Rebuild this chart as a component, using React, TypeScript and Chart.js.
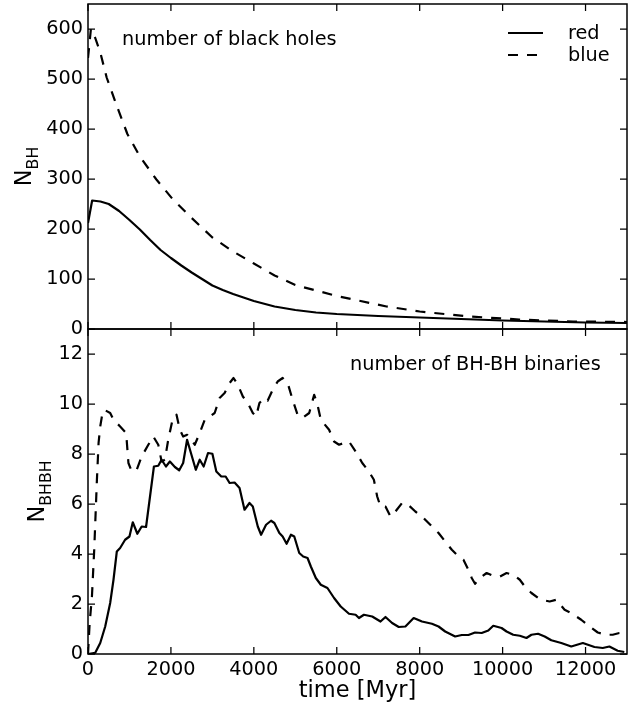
import React, { useEffect, useRef } from 'react';
import { Chart, registerables } from 'chart.js';

Chart.register(...registerables);

const FONT = '"DejaVu Sans", "Bitstream Vera Sans", sans-serif';

// ---- ticks ----
const xTicks = [0, 2000, 4000, 6000, 8000, 10000, 12000];
const topYTicks = [0, 100, 200, 300, 400, 500, 600];
const bottomYTicks = [0, 2, 4, 6, 8, 10, 12];

// ---- top panel: number of black holes ----
const redBhTime = [0, 100, 300, 500, 750, 1000, 1250, 1500, 1750, 2000, 2250, 2500, 2750, 3000, 3250, 3500, 3750, 4000, 4500, 5000, 5500, 6000, 6500, 7000, 8000, 9000, 10000, 11000, 12000, 13000];
const redBhCount = [212, 257, 255, 250, 236, 218, 199, 178, 158, 142, 127, 113, 100, 87, 78, 70, 63, 56, 45, 38, 33, 30, 28, 26, 23, 20, 17, 15, 13, 12];

const blueBhTime = [0, 70, 175, 300, 450, 700, 950, 1250, 1650, 2050, 2500, 3000, 3500, 4000, 4500, 5000, 5500, 6000, 6400, 7200, 8000, 9200, 10400, 11700, 13000];
const blueBhCount = [542, 600, 582, 552, 503, 445, 390, 345, 299, 259, 222, 183, 155, 131, 107, 88, 77, 66, 59, 45, 35, 25, 19, 15, 14];

// ---- bottom panel: number of BH-BH binaries ----
const redBinTime = [0, 175, 295, 415, 535, 615, 695, 775, 895, 1000, 1080, 1190, 1295, 1400, 1590, 1695, 1775, 1880, 1975, 2095, 2200, 2295, 2390, 2495, 2600, 2695, 2790, 2895, 3000, 3095, 3215, 3320, 3415, 3535, 3655, 3775, 3895, 3975, 4095, 4175, 4295, 4415, 4495, 4615, 4695, 4790, 4895, 4975, 5095, 5190, 5295, 5375, 5495, 5615, 5775, 5935, 6095, 6295, 6455, 6535, 6655, 6855, 7055, 7175, 7335, 7495, 7655, 7855, 8055, 8295, 8455, 8615, 8855, 9015, 9175, 9335, 9495, 9655, 9775, 9975, 10095, 10255, 10415, 10575, 10695, 10855, 11015, 11175, 11415, 11655, 11935, 12215, 12415, 12575, 12775, 12935];
const redBinCount = [0, 0.05, 0.44, 1.1, 2.04, 2.97, 4.1, 4.24, 4.57, 4.7, 5.27, 4.81, 5.1, 5.08, 7.5, 7.53, 7.77, 7.5, 7.7, 7.48, 7.35, 7.64, 8.57, 7.97, 7.37, 7.77, 7.5, 8.04, 8.01, 7.3, 7.1, 7.1, 6.84, 6.86, 6.64, 5.77, 6.04, 5.9, 5.1, 4.77, 5.17, 5.33, 5.24, 4.84, 4.7, 4.41, 4.77, 4.7, 4.04, 3.9, 3.84, 3.5, 3.04, 2.77, 2.64, 2.24, 1.9, 1.61, 1.57, 1.44, 1.57, 1.5, 1.3, 1.48, 1.24, 1.08, 1.1, 1.44, 1.3, 1.21, 1.1, 0.9, 0.7, 0.76, 0.76, 0.86, 0.84, 0.94, 1.13, 1.04, 0.9, 0.77, 0.73, 0.64, 0.77, 0.81, 0.7, 0.55, 0.44, 0.3, 0.44, 0.28, 0.24, 0.3, 0.13, 0.08];

const blueBinTime = [0, 40, 95, 150, 215, 255, 295, 335, 390, 535, 615, 775, 920, 975, 1055, 1175, 1295, 1455, 1575, 1695, 1775, 1855, 1935, 2055, 2135, 2215, 2295, 2390, 2495, 2575, 2695, 2815, 2935, 3055, 3175, 3295, 3415, 3510, 3615, 3735, 3855, 3975, 4055, 4135, 4255, 4335, 4455, 4575, 4695, 4815, 4935, 5055, 5175, 5335, 5455, 5535, 5615, 5815, 5935, 6055, 6175, 6295, 6455, 6615, 6775, 6895, 6975, 7055, 7175, 7295, 7415, 7575, 7695, 7895, 8055, 8255, 8455, 8615, 8775, 8935, 9055, 9175, 9255, 9335, 9455, 9615, 9775, 9935, 10095, 10255, 10415, 10535, 10695, 10855, 10935, 11135, 11295, 11495, 11655, 11895, 12095, 12295, 12495, 12655, 12815, 12935];
const blueBinCount = [0, 1.24, 2.3, 4.17, 6.97, 8.44, 9.1, 9.5, 9.77, 9.64, 9.37, 9.1, 8.84, 7.64, 7.3, 7.37, 7.9, 8.37, 8.7, 8.37, 7.7, 7.77, 8.57, 9.5, 9.57, 8.97, 8.7, 8.77, 8.57, 8.37, 8.84, 9.37, 9.5, 9.64, 10.24, 10.44, 10.84, 11.04, 10.77, 10.3, 10.04, 9.64, 9.5, 10.04, 10.24, 10.14, 10.57, 10.9, 11.04, 10.84, 10.17, 9.57, 9.44, 9.64, 10.37, 9.97, 9.37, 8.97, 8.5, 8.37, 8.44, 8.5, 8.1, 7.64, 7.3, 6.97, 6.3, 5.9, 5.9, 5.5, 5.7, 6.04, 6.01, 5.7, 5.5, 5.17, 4.84, 4.5, 4.17, 3.9, 3.77, 3.37, 3.04, 2.81, 3.04, 3.24, 3.13, 3.1, 3.24, 3.17, 2.97, 2.7, 2.44, 2.24, 2.17, 2.1, 2.17, 1.77, 1.64, 1.37, 1.1, 0.86, 0.77, 0.77, 0.84, 0.84];

const seriesLabels = ['red', 'blue'];

const pts = (t: number[], v: number[]) => t.map((x, i) => ({ x, y: v[i] }));

const DASH = [10, 9];

const framePlugin = {
  id: 'frame',
  afterDraw(chart: any, _args: any, opts: any) {
    const { ctx, chartArea: a, scales } = chart;
    ctx.save();
    ctx.strokeStyle = '#000';
    ctx.lineWidth = 1.5;
    ctx.strokeRect(a.left, a.top, a.right - a.left, a.bottom - a.top);
    const L = 7;
    ctx.lineWidth = 1.25;
    ctx.beginPath();
    for (const v of xTicks) {
      const px = scales.x.getPixelForValue(v);
      ctx.moveTo(px, a.top);
      ctx.lineTo(px, a.top + L);
      ctx.moveTo(px, a.bottom);
      ctx.lineTo(px, a.bottom - L);
    }
    for (const v of opts.yTicks || []) {
      const py = scales.y.getPixelForValue(v);
      ctx.moveTo(a.left, py);
      ctx.lineTo(a.left + L, py);
      ctx.moveTo(a.right, py);
      ctx.lineTo(a.right - L, py);
    }
    ctx.stroke();
    ctx.restore();
  },
};

const yLabelPlugin = {
  id: 'ylabel',
  afterDraw(chart: any, _args: any, opts: any) {
    if (!opts || !opts.main) return;
    const { ctx, chartArea: a } = chart;
    const mainFont = `22.5px ${FONT}`;
    const subFont = `15.75px ${FONT}`;
    ctx.save();
    ctx.font = mainFont;
    const wMain = ctx.measureText(opts.main).width;
    ctx.font = subFont;
    const wSub = ctx.measureText(opts.sub).width;
    const total = wMain + wSub;
    const cy = (a.top + a.bottom) / 2;
    ctx.translate(opts.x, cy);
    ctx.rotate(-Math.PI / 2);
    ctx.fillStyle = '#000';
    ctx.textBaseline = 'alphabetic';
    ctx.textAlign = 'left';
    ctx.font = mainFont;
    ctx.fillText(opts.main, -total / 2, 0);
    ctx.font = subFont;
    ctx.fillText(opts.sub, -total / 2 + wMain, 6.5);
    ctx.restore();
  },
};

const notePlugin = {
  id: 'note',
  afterDraw(chart: any, _args: any, opts: any) {
    if (!opts || !opts.text) return;
    const { ctx, chartArea: a } = chart;
    ctx.save();
    ctx.font = `19.3px ${FONT}`;
    ctx.fillStyle = '#000';
    ctx.textBaseline = 'middle';
    ctx.textAlign = 'left';
    const x = a.left + opts.fx * (a.right - a.left);
    const y = a.bottom - opts.fy * (a.bottom - a.top);
    ctx.fillText(opts.text, x, y);
    ctx.restore();
  },
};

const legendPlugin = {
  id: 'boxLegend',
  afterDraw(chart: any, _args: any, opts: any) {
    if (!opts || !opts.show) return;
    const { ctx, chartArea: a } = chart;
    ctx.save();
    chart.data.datasets.forEach((ds: any, i: number) => {
      const y = a.top + 29 + i * 22;
      ctx.strokeStyle = ds.borderColor;
      ctx.lineWidth = ds.borderWidth;
      ctx.setLineDash(ds.borderDash || []);
      ctx.beginPath();
      ctx.moveTo(a.right - 119, y);
      ctx.lineTo(a.right - 84, y);
      ctx.stroke();
      ctx.setLineDash([]);
      ctx.font = `19.3px ${FONT}`;
      ctx.fillStyle = '#000';
      ctx.textBaseline = 'middle';
      ctx.textAlign = 'left';
      ctx.fillText(ds.label, a.right - 59, y + 1);
    });
    ctx.restore();
  },
};

function lineDataset(label: string, data: any[], dashed: boolean) {
  return {
    label,
    data,
    borderColor: '#000',
    borderWidth: 2.2,
    borderDash: dashed ? DASH : [],
    borderJoinStyle: 'round',
    pointRadius: 0,
    tension: 0,
    fill: false,
  };
}

function yScale(max: number, ticks: number[]) {
  return {
    type: 'linear',
    min: 0,
    max,
    grid: { display: false, drawTicks: false },
    border: { display: false },
    ticks: {
      color: '#000',
      font: { family: FONT, size: 19.3 },
      padding: 5,
      callback: (v: any) => String(v),
    },
    afterBuildTicks: (s: any) => {
      s.ticks = ticks.map((value) => ({ value }));
    },
    afterFit: (s: any) => {
      s.width = 88;
      s.paddingTop = 0;
      s.paddingBottom = 0;
    },
  };
}

export default function App() {
  const topRef = useRef<HTMLCanvasElement | null>(null);
  const botRef = useRef<HTMLCanvasElement | null>(null);

  useEffect(() => {
    const top = new Chart(topRef.current as HTMLCanvasElement, {
      type: 'line',
      data: {
        datasets: [
          lineDataset(seriesLabels[0], pts(redBhTime, redBhCount), false),
          lineDataset(seriesLabels[1], pts(blueBhTime, blueBhCount), true),
        ] as any,
      },
      options: {
        responsive: false,
        animation: false,
        devicePixelRatio: 1,
        layout: { padding: { top: 4, right: 6, bottom: 11, left: 0 } },
        scales: {
          x: { type: 'linear', min: 0, max: 13000, display: false },
          y: yScale(650, topYTicks) as any,
        },
        plugins: {
          legend: { display: false },
          tooltip: { enabled: false },
          frame: { yTicks: topYTicks },
          ylabel: { main: 'N', sub: 'BH', x: 31 },
          note: { text: 'number of black holes', fx: 0.063, fy: 0.89 },
          boxLegend: { show: true },
        } as any,
      },
      plugins: [framePlugin, yLabelPlugin, notePlugin, legendPlugin],
    });

    const bot = new Chart(botRef.current as HTMLCanvasElement, {
      type: 'line',
      data: {
        datasets: [
          lineDataset(seriesLabels[0], pts(redBinTime, redBinCount), false),
          lineDataset(seriesLabels[1], pts(blueBinTime, blueBinCount), true),
        ] as any,
      },
      options: {
        responsive: false,
        animation: false,
        devicePixelRatio: 1,
        layout: { padding: { top: 9, right: 6, bottom: 0, left: 0 } },
        scales: {
          x: {
            type: 'linear',
            min: 0,
            max: 13000,
            grid: { display: false, drawTicks: false },
            border: { display: false },
            ticks: {
              color: '#000',
              font: { family: FONT, size: 19.3 },
              padding: 4,
              autoSkip: false,
              maxRotation: 0,
              minRotation: 0,
              callback: (v: any) => String(v),
            },
            title: {
              display: true,
              text: 'time [Myr]',
              color: '#000',
              font: { family: FONT, size: 22.5 },
              padding: { top: 0, bottom: 1 },
            },
            afterBuildTicks: (s: any) => {
              s.ticks = xTicks.map((value) => ({ value }));
            },
            afterFit: (s: any) => {
              s.height = 52;
              s.paddingLeft = 0;
              s.paddingRight = 0;
            },
          } as any,
          y: yScale(13, bottomYTicks) as any,
        },
        plugins: {
          legend: { display: false },
          tooltip: { enabled: false },
          frame: { yTicks: bottomYTicks },
          ylabel: { main: 'N', sub: 'BHBH', x: 44 },
          note: { text: 'number of BH-BH binaries', fx: 0.486, fy: 0.889 },
          boxLegend: { show: false },
        } as any,
      },
      plugins: [framePlugin, yLabelPlugin, notePlugin, legendPlugin],
    });

    return () => {
      top.destroy();
      bot.destroy();
    };
  }, []);

  return (
    <div style={{ position: 'absolute', left: 0, top: 0, width: 633, height: 706, background: '#fff' }}>
      <canvas ref={topRef} width={633} height={340} style={{ position: 'absolute', left: 0, top: 0, display: 'block' }} />
      <canvas ref={botRef} width={633} height={386} style={{ position: 'absolute', left: 0, top: 320, display: 'block' }} />
    </div>
  );
}
